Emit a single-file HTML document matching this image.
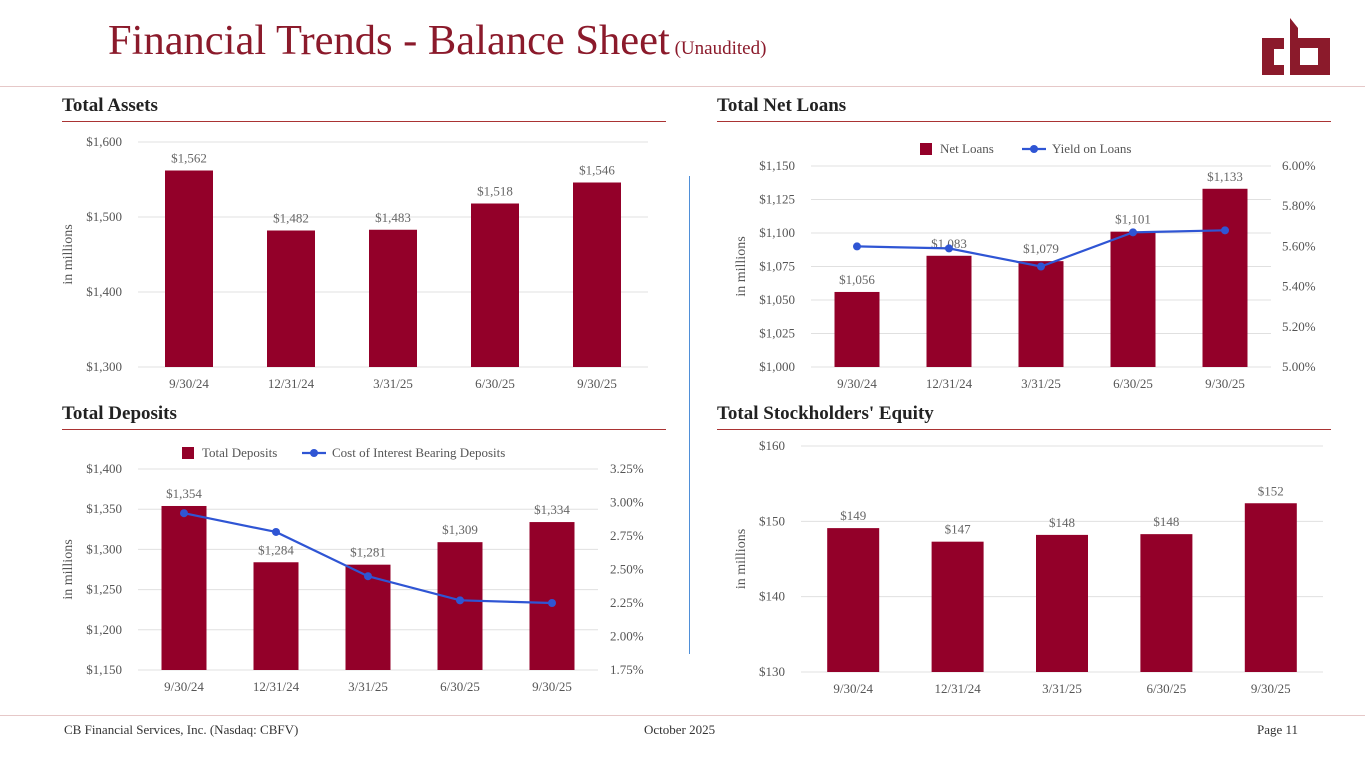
<!DOCTYPE html>
<html><head><meta charset="utf-8"><style>
body{margin:0;width:1365px;height:768px;background:#fff;position:relative;overflow:hidden;font-family:"Liberation Serif",serif}
.abs{position:absolute}
.h{font-weight:bold;font-size:19px;color:#222}
.rule{position:absolute;height:1px;background:#a33}
.foot{position:absolute;top:722px;font-size:13px;color:#333}
svg text{font-family:"Liberation Serif",serif}
</style></head><body>
<div class="abs" style="left:108px;top:16px;font-size:42.5px;color:#8b1a2b;white-space:nowrap">Financial Trends - Balance Sheet<span style="font-size:19px"> (Unaudited)</span></div>
<svg class="abs" style="left:1262px;top:18px" width="70" height="58" viewBox="0 0 70 58">
<path d="M0 20h22v11h-10v16h10v10h-22z" fill="#8b1a2b"/>
<path d="M28 0l8 10v10h32v37h-40z M38 30v17h18v-17z" fill="#8b1a2b" fill-rule="evenodd"/>
</svg>
<div class="rule" style="left:0;top:86px;width:1365px;background:#e6c8c8"></div>
<div class="abs h" style="left:62px;top:95px">Total Assets</div>
<div class="rule" style="left:62px;top:121px;width:604px"></div>
<div class="abs h" style="left:717px;top:95px">Total Net Loans</div>
<div class="rule" style="left:717px;top:121px;width:614px"></div>
<div class="abs h" style="left:62px;top:403px">Total Deposits</div>
<div class="rule" style="left:62px;top:429px;width:604px"></div>
<div class="abs h" style="left:717px;top:403px">Total Stockholders' Equity</div>
<div class="rule" style="left:717px;top:429px;width:614px"></div>
<div class="abs" style="left:689px;top:176px;width:1px;height:478px;background:#4f8fd8"></div>
<svg id="chart" class="abs" style="left:0;top:0" width="1365" height="768"></svg>
<div class="rule" style="left:0;top:715px;width:1365px;background:#e6c8c8"></div>
<div class="foot" style="left:64px">CB Financial Services, Inc. (Nasdaq: CBFV)</div>
<div class="foot" style="left:644px">October 2025</div>
<div class="foot" style="left:1257px">Page 11</div>
<script>
const categories=["9/30/24","12/31/24","3/31/25","6/30/25","9/30/25"];
const assetsValues=[1562,1482,1483,1518,1546];
const assetsTicks=[1300,1400,1500,1600];
const loansValues=[1056,1083,1079,1101,1133];
const loansTicks=[1000,1025,1050,1075,1100,1125,1150];
const loanYield=[5.60,5.59,5.50,5.67,5.68];
const loanYieldTicks=[5.0,5.2,5.4,5.6,5.8,6.0];
const depositsValues=[1354,1284,1281,1309,1334];
const depositsTicks=[1150,1200,1250,1300,1350,1400];
const depositCost=[2.92,2.78,2.45,2.27,2.25];
const depositCostTicks=[1.75,2.0,2.25,2.5,2.75,3.0,3.25];
const equityValues=[149.1,147.3,148.2,148.3,152.4];
const equityLabels=[149,147,148,148,152];
const equityTicks=[130,140,150,160];

const svg=document.getElementById('chart');
const NS='http://www.w3.org/2000/svg';
function el(tag,attrs,parent){const e=document.createElementNS(NS,tag);for(const k in attrs)e.setAttribute(k,attrs[k]);(parent||svg).appendChild(e);return e;}
function txt(s,x,y,anchor,size,fill,parent){const t=el('text',{x:x,y:y,'text-anchor':anchor,'font-size':size,fill:fill},parent);t.textContent=s;return t;}
const fmt=v=>'$'+v.toLocaleString('en-US');

function chart(o){
  const g=el('g',{});
  
  
  const ys=v=>o.y1-(v-o.ticks[0])/(o.ticks[o.ticks.length-1]-o.ticks[0])*(o.y1-o.y0);
  const step=(o.x1-o.x0)/categories.length;
  const xc=i=>o.x0+step*(i+0.5);
  o.ticks.forEach(t=>{
    const y=ys(t);
    const gl=el('line',{x1:o.x0,x2:o.x1,y1:y,y2:y,stroke:'#e0e0e0','stroke-width':1},g);
    
    
    const tl=txt(fmt(t),o.x0-16,y+4,'end',13,'#555',g);
    
    
  });
  const yt=txt('in millions',0,0,'middle',14,'#555',g);
  yt.setAttribute('transform','translate('+o.yTitleX+','+(o.y0+o.y1)/2+') rotate(-90)');
  
  
  o.values.forEach((v,i)=>{
    const y=ys(v);
    const b=el('rect',{x:xc(i)-o.bw/2,y:y,width:o.bw,height:o.y1-y,fill:'#930029'},g);
    
    
    const l=txt(fmt(o.labels?o.labels[i]:v),xc(i),y-8,'middle',13,'#666',g);
    
    
    const c=txt(categories[i],xc(i),o.y1+21,'middle',13,'#555',g);
    
    
  });
  if(o.line){
    const rt=o.rTicks;
    const yr=v=>o.y1-(v-rt[0])/(rt[rt.length-1]-rt[0])*(o.y1-o.y0);
    rt.forEach(t=>{
      const tl=txt(t.toFixed(2)+'%',o.rx,yr(t)+4,'start',13,'#555',g);
      
      
    });
    const pts=o.line.map((v,i)=>xc(i)+','+yr(v)).join(' ');
    const pl=el('polyline',{points:pts,fill:'none',stroke:'#2f55d4','stroke-width':2.2},g);
    
    
    o.line.forEach((v,i)=>{
      const c=el('circle',{cx:xc(i),cy:yr(v),r:4,fill:'#2f55d4'},g);
      
      
    });
    const lg=el('g',{},g);
    
    
    el('rect',{x:o.lgx,y:o.lgy-6,width:12,height:12,fill:'#930029'},lg);
    txt(o.lg1,o.lgx+20,o.lgy+4,'start',13,'#555',lg);
    el('line',{x1:o.lgx2,x2:o.lgx2+24,y1:o.lgy,y2:o.lgy,stroke:'#2f55d4','stroke-width':2.2},lg);
    el('circle',{cx:o.lgx2+12,cy:o.lgy,r:4,fill:'#2f55d4'},lg);
    txt(o.lg2,o.lgx2+30,o.lgy+4,'start',13,'#555',lg);
  }
}
chart({name:'total-assets-chart',values:assetsValues,ticks:assetsTicks,x0:138,x1:648,y0:142,y1:367,bw:48,yTitleX:72});
chart({name:'total-net-loans-chart',values:loansValues,ticks:loansTicks,x0:811,x1:1271,y0:166,y1:367,bw:45,yTitleX:745,
  line:loanYield,rTicks:loanYieldTicks,rx:1282,lgx:920,lgy:149,lg1:'Net Loans',lgx2:1022,lg2:'Yield on Loans'});
chart({name:'total-deposits-chart',values:depositsValues,ticks:depositsTicks,x0:138,x1:598,y0:469,y1:670,bw:45,yTitleX:72,
  line:depositCost,rTicks:depositCostTicks,rx:610,lgx:182,lgy:453,lg1:'Total Deposits',lgx2:302,lg2:'Cost of Interest Bearing Deposits'});
chart({name:'total-equity-chart',values:equityValues,labels:equityLabels,ticks:equityTicks,x0:801,x1:1323,y0:446,y1:672,bw:52,yTitleX:745});
</script>
</body></html>
